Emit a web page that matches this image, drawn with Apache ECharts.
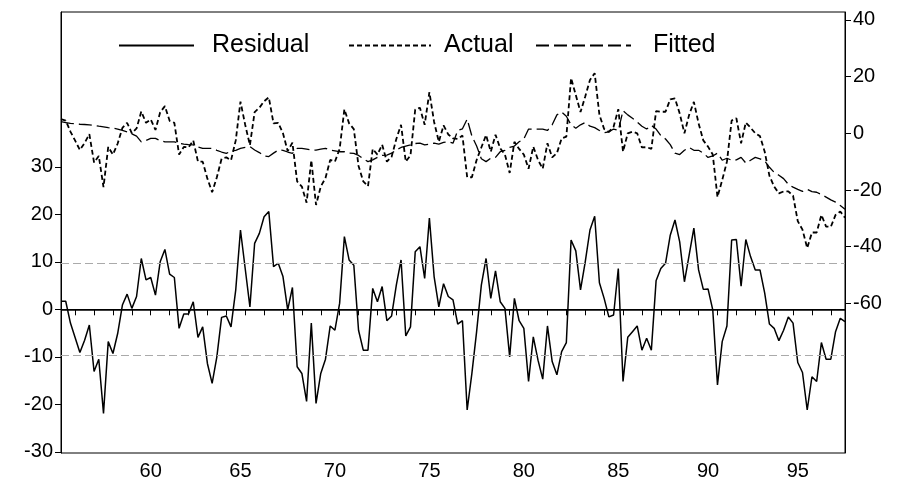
<!DOCTYPE html>
<html>
<head>
<meta charset="utf-8">
<script src="https://cdn.jsdelivr.net/npm/echarts@6/dist/echarts.min.js"></script>
<style>
  html, body { margin: 0; padding: 0; background: #fff; }
  #chart { width: 919px; height: 494px; }
</style>
</head>
<body>
<div id="chart"></div>
<script>
// quarterly sample, first observation 1955Q2, last 1996Q4
const startYear = 1955
const startQuarter = 2
const nObs = 167

// year labels; in the original they sit slightly left of the Q1 ticks as the years go on,
// so each one is attached to the observation it is printed under
const xLabels = ['60', '65', '70', '75', '80', '85', '90', '95']
const xLabelObs = ['1960Q1', '1964Q4', '1969Q4', '1974Q4', '1979Q4', '1984Q4', '1989Q3', '1994Q2']
const residTicks = [-30, -20, -10, 0, 10, 20, 30]
const actualTicks = [-60, -40, -20, 0, 20, 40]
const residSE = 9.65

const residual = [
  1.7, 1.7, -2.9, -6.0, -9.1, -6.5, -3.3, -13.1, -10.5, -21.9, -6.8, -9.3, -5.1, 0.9, 3.2, 0.2, 2.7, 10.7, 6.2, 6.7,
  3.0, 10.0, 12.6, 7.4, 6.7, -4.0, -1.0, -1.0, 1.6, -5.9, -3.7, -11.4, -15.6, -10.0, -1.7, -1.4, -3.7, 4.1, 16.7, 8.6,
  0.5, 13.9, 16.0, 19.5, 20.6, 9.0, 9.7, 6.9, -0.1, 4.6, -12.1, -13.5, -19.4, -2.9, -19.8, -13.5, -10.5, -3.5, -4.4, 1.3,
  15.3, 10.4, 9.3, -4.4, -8.6, -8.6, 4.4, 1.6, 4.8, -2.4, -1.4, 5.1, 10.4, -5.6, -3.7, 12.1, 13.2, 6.5, 19.2, 6.9,
  0.5, 5.4, 2.7, 2.0, -3.1, -2.4, -21.2, -13.5, -4.7, 5.1, 10.7, 2.3, 8.1, 1.6, 0.2, -10.0, 2.3, -2.4, -4.0, -15.2,
  -5.8, -10.7, -14.7, -3.5, -11.0, -13.8, -8.9, -7.0, 14.6, 12.3, 4.1, 10.0, 16.7, 19.6, 5.6, 2.3, -1.6, -1.2, 8.6, -15.2,
  -5.9, -4.7, -3.5, -8.6, -6.1, -8.6, 6.0, 8.6, 9.7, 15.6, 18.8, 14.2, 5.8, 11.4, 17.1, 8.3, 4.2, 4.3, -0.1, -15.9,
  -6.8, -3.5, 14.6, 14.7, 4.9, 14.7, 11.1, 8.3, 8.3, 3.4, -3.1, -4.0, -6.6, -4.4, -1.6, -2.9, -11.2, -13.3, -21.2, -14.2,
  -15.2, -7.0, -10.5, -10.5, -4.7, -1.9, -2.6
]

const actual = [
  5.0, 4.5, 0.6, -2.6, -5.9, -3.4, -0.3, -10.3, -8.0, -19.0, -4.8, -7.5, -3.6, 1.9, 3.7, 0.0, 1.7, 7.7, 3.7, 4.9,
  1.2, 7.4, 9.6, 4.4, 3.7, -7.5, -4.8, -5.0, -2.5, -10.0, -10.0, -16.0, -20.8, -15.5, -9.0, -8.5, -9.5, -2.5, 11.2, 3.0,
  -4.2, 7.5, 9.0, 11.3, 12.7, 3.5, 3.7, 0.0, -6.3, -3.3, -17.0, -18.8, -24.5, -9.5, -25.3, -18.8, -15.8, -9.4, -10.0, -5.5,
  8.5, 3.5, 1.5, -11.5, -17.0, -18.7, -5.5, -7.5, -4.0, -10.0, -8.3, -2.0, 3.0, -10.0, -7.8, 8.4, 9.0, 3.0, 14.5, 4.0,
  -3.0, 2.8, -0.4, -1.8, -2.0, -0.8, -15.5, -15.5, -9.4, -5.0, -0.6, -6.5, -0.5, -5.3, -7.5, -14.0, -3.0, -5.5, -7.5, -12.5,
  -4.7, -9.4, -12.5, -3.5, -8.5, -7.0, -1.8, -1.2, 19.5, 13.5, 7.5, 13.0, 18.8, 21.2, 6.5, 1.5, 0.5, 2.3, 8.5, -6.5,
  0.0, 0.6, 0.0, -5.0, -4.9, -5.5, 7.8, 7.6, 7.6, 12.0, 12.3, 7.0, 0.0, 6.5, 11.1, 3.5, -2.5, -4.7, -7.5, -22.5,
  -16.5, -10.0, 4.5, 5.3, -3.5, 3.8, 2.0, 0.0, -1.0, -6.5, -15.0, -18.8, -21.2, -20.5, -20.5, -22.0, -31.0, -34.0, -40.5, -35.0,
  -35.0, -28.8, -32.9, -33.0, -28.8, -27.6, -29.8
]

const fitted = [
  4.1, 3.8, 3.5, 3.4, 3.2, 3.1, 3.0, 2.8, 2.5, 2.3, 2.0, 1.8, 1.5, 1.0, 0.5, -0.2, -1.0, -3.0, -2.5, -1.8,
  -1.8, -2.6, -3.0, -3.0, -3.0, -3.5, -3.8, -4.0, -4.1, -4.8, -5.3, -5.3, -5.3, -6.0, -6.6, -7.1, -6.3, -6.0, -5.3, -5.0,
  -4.7, -5.9, -6.8, -8.0, -8.2, -7.0, -5.9, -6.0, -6.6, -7.1, -5.3, -5.3, -5.6, -5.9, -5.9, -5.6, -5.3, -5.9, -6.2, -6.5,
  -6.5, -7.0, -7.1, -7.8, -9.0, -10.0, -9.4, -8.5, -7.8, -7.7, -7.0, -5.9, -5.0, -4.5, -4.1, -3.6, -3.5, -4.1, -3.8, -3.5,
  -3.8, -3.2, -3.0, -3.5, 1.0, 1.6, 5.0, -1.0, -4.5, -9.0, -10.0, -8.8, -8.5, -6.5, -6.0, -5.0, -4.5, -3.0, -2.0, 1.5,
  1.5, 1.5, 1.5, 1.0, 3.0, 6.5, 7.5, 6.0, 3.0, 1.8, 3.0, 3.8, 2.5, 2.0, 1.0, 0.2, 0.5, 1.5, 1.0, 8.0,
  6.5, 5.3, 4.0, 2.5, 1.5, 2.8, 1.5, -0.8, -2.0, -4.0, -7.0, -7.5, -6.0, -5.0, -6.0, -6.0, -7.0, -8.5, -8.0, -7.0,
  -9.5, -8.8, -9.5, -9.4, -8.5, -10.5, -9.5, -8.5, -9.0, -9.8, -12.0, -13.8, -14.8, -16.0, -18.0, -19.0, -19.8, -20.5, -19.8, -20.6,
  -20.8, -21.6, -22.5, -23.5, -24.3, -25.5, -26.8
]

let quarters = []
for (let i = 0; i < nObs; i++) {
  let q = startQuarter - 1 + i
  quarters.push((startYear + Math.floor(q / 4)) + 'Q' + (q % 4 + 1))
}

const font = 'Liberation Sans'
const isQ1 = i => quarters[i].slice(4) === 'Q1'

// one legend block per entry, the gaps in the original are uneven
function legendItem(name, left, width, pad) {
  return {
    data: [name],
    left: left, top: 28,
    itemWidth: width, itemHeight: 14,
    itemStyle: { opacity: 0 },
    textStyle: { fontSize: 25, fontFamily: font, color: '#000', padding: [0, 0, 0, pad] }
  }
}

let chart = echarts.init(document.getElementById('chart'))
chart.setOption({
  animation: false,
  textStyle: { fontFamily: font, color: '#000' },
  grid: {
    left: 61, right: 74, top: 12, bottom: 41,
    show: true, borderColor: '#000', borderWidth: 1
  },
  legend: [
    legendItem('Residual', 113, 75, 13),
    legendItem('Actual', 343, 82, 8),
    legendItem('Fitted', 530, 95, 17)
  ],
  xAxis: {
    type: 'category',
    data: quarters,
    boundaryGap: false,
    axisLine: { lineStyle: { color: '#000', width: 1 } },
    axisTick: { inside: false, length: 6, interval: i => isQ1(i), lineStyle: { color: '#000' } },
    axisLabel: {
      interval: (i, v) => xLabelObs.indexOf(v) >= 0,
      formatter: v => xLabels[xLabelObs.indexOf(v)],
      fontSize: 20, color: '#000', margin: 8
    },
    splitLine: { show: false }
  },
  yAxis: [
    {
      type: 'value',
      position: 'left',
      min: -30.25, max: 62.6,
      axisLine: { show: true, lineStyle: { color: '#000' } },
      axisTick: { show: true, length: 6, customValues: residTicks, lineStyle: { color: '#000' } },
      axisLabel: { customValues: residTicks, fontSize: 20, color: '#000', margin: 8 },
      splitLine: { show: false }
    },
    {
      type: 'value',
      position: 'right',
      min: -112.8, max: 42.8,
      axisLine: { show: true, lineStyle: { color: '#000' } },
      axisTick: { show: true, length: 6, customValues: actualTicks, lineStyle: { color: '#000' } },
      axisLabel: { customValues: actualTicks, fontSize: 20, color: '#000', margin: 8 },
      splitLine: { show: false }
    }
  ],
  series: [
    {
      name: 'Residual',
      type: 'line',
      yAxisIndex: 0,
      data: residual,
      symbol: 'none',
      color: '#000',
      lineStyle: { color: '#000', width: 1.5, type: 'solid' },
      markLine: {
        silent: true,
        symbol: 'none',
        label: { show: false },
        data: [
          { yAxis: 0, lineStyle: { color: '#000', width: 1.6, type: 'solid' } },
          { yAxis: residSE, lineStyle: { color: '#aaa', width: 1, type: [8, 4] } },
          { yAxis: -residSE, lineStyle: { color: '#aaa', width: 1, type: [8, 4] } }
        ]
      }
    },
    {
      name: 'Actual',
      type: 'line',
      yAxisIndex: 1,
      data: actual,
      symbol: 'none',
      color: '#000',
      lineStyle: { color: '#000', width: 1.8, type: [5, 3] }
    },
    {
      name: 'Fitted',
      type: 'line',
      yAxisIndex: 1,
      data: fitted,
      symbol: 'none',
      color: '#000',
      lineStyle: { color: '#000', width: 1.3, type: [13, 5] }
    }
  ]
})
</script>
</body>
</html>
